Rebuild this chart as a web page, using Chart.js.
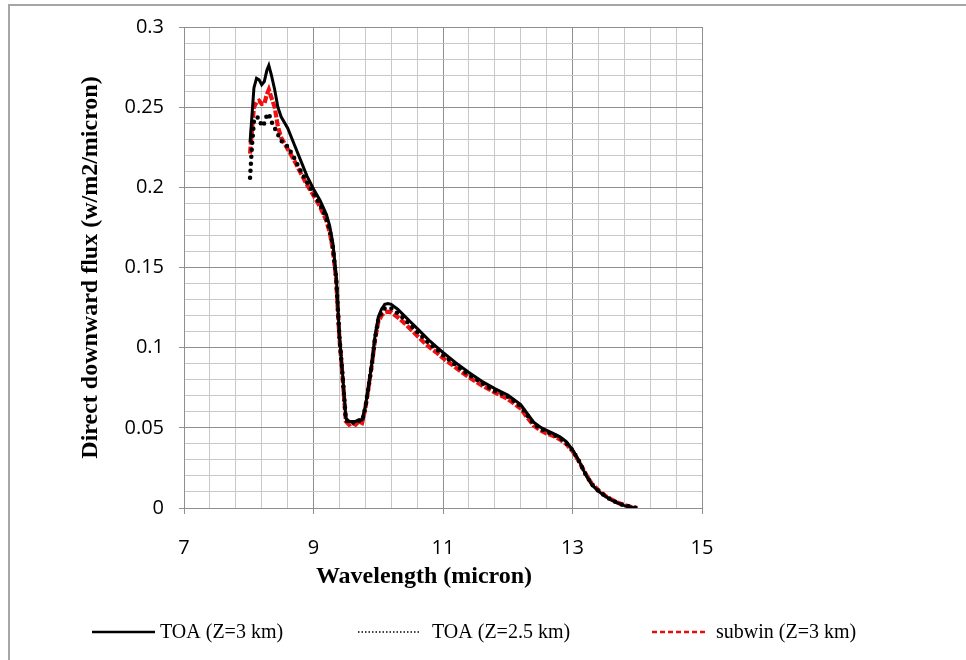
<!DOCTYPE html>
<html>
<head>
<meta charset="utf-8">
<title>Direct downward flux</title>
<script src="https://cdn.jsdelivr.net/npm/chart.js@4.4.1/dist/chart.umd.min.js"></script>
<style>
  html, body { margin: 0; padding: 0; background: #fff; overflow: hidden; }
  #wrap { position: relative; width: 966px; height: 660px; }
  #frame { position: absolute; left: 8px; top: 4px; width: 1000px; height: 700px; border: 2px solid #a6a6a6; box-sizing: border-box; }
  canvas { position: absolute; left: 0; top: 0; }
</style>
</head>
<body>
<div id="wrap">
  <div id="frame"></div>
  <canvas id="fluxChart" width="966" height="660"></canvas>
</div>
<script>
// Data (wavelength in micron, flux in w/m2/micron)
const wavelength = [
  8.02, 8.05, 8.08, 8.12, 8.16, 8.2, 8.24, 8.28, 8.31, 8.35, 8.4, 8.45,
  8.5, 8.6, 8.7, 8.8, 8.9, 9.0, 9.1, 9.2, 9.25, 9.3, 9.35, 9.4,
  9.45, 9.5, 9.55, 9.6, 9.65, 9.7, 9.75, 9.8, 9.85, 9.9, 9.95, 10.0,
  10.05, 10.1, 10.15, 10.2, 10.3, 10.4, 10.5, 10.6, 10.7, 10.8, 10.9, 11.0,
  11.2, 11.4, 11.6, 11.8, 12.0, 12.2, 12.3, 12.4, 12.5, 12.6, 12.7, 12.8,
  12.9, 13.0, 13.1, 13.2, 13.3, 13.4, 13.5, 13.6, 13.7, 13.8, 13.9, 14.0
];

const toa3km = [
  0.228, 0.245, 0.262, 0.268, 0.267, 0.264, 0.266, 0.273, 0.276, 0.270, 0.261, 0.250,
  0.244, 0.237, 0.227, 0.217, 0.207, 0.199, 0.192, 0.183, 0.176, 0.165, 0.145, 0.108,
  0.083, 0.056, 0.054, 0.054, 0.054, 0.055, 0.055, 0.063, 0.076, 0.090, 0.107, 0.119,
  0.124, 0.127, 0.1275, 0.127, 0.124, 0.120, 0.116, 0.112, 0.108, 0.104, 0.1005, 0.097,
  0.0905, 0.0845, 0.079, 0.0745, 0.0705, 0.0645, 0.059, 0.0535, 0.0505, 0.0485, 0.0465, 0.0445,
  0.0415, 0.0365, 0.0295, 0.021, 0.0145, 0.0105, 0.0075, 0.005, 0.003, 0.0015, 0.0006, 0
];

const toa25km = [
  0.206, 0.226, 0.241, 0.244, 0.243, 0.238, 0.240, 0.245, 0.246, 0.241, 0.237, 0.233,
  0.229, 0.2255, 0.2185, 0.2105, 0.203, 0.1965, 0.1895, 0.1805, 0.1735, 0.1625, 0.1435, 0.107,
  0.082, 0.055, 0.053, 0.0535, 0.053, 0.0545, 0.054, 0.0625, 0.0755, 0.0895, 0.106, 0.1175,
  0.122, 0.1245, 0.125, 0.1245, 0.1215, 0.118, 0.114, 0.110, 0.106, 0.102, 0.099, 0.0955,
  0.089, 0.083, 0.078, 0.073, 0.0695, 0.0635, 0.058, 0.0525, 0.0495, 0.0475, 0.0458, 0.0438,
  0.0408, 0.036, 0.0293, 0.0212, 0.0147, 0.0107, 0.0076, 0.0051, 0.0031, 0.0016, 0.0007, 0
];

const subwin3km = [
  0.221, 0.236, 0.250, 0.253, 0.254, 0.252, 0.252, 0.258, 0.261, 0.256, 0.250, 0.238,
  0.231, 0.224, 0.217, 0.209, 0.2015, 0.195, 0.188, 0.179, 0.172, 0.161, 0.142, 0.106,
  0.081, 0.054, 0.052, 0.053, 0.052, 0.054, 0.053, 0.062, 0.075, 0.089, 0.105, 0.116,
  0.120, 0.122, 0.1225, 0.122, 0.119, 0.1155, 0.1115, 0.1075, 0.1035, 0.100, 0.097, 0.0935,
  0.0875, 0.0815, 0.0765, 0.072, 0.068, 0.062, 0.0565, 0.0515, 0.0485, 0.0465, 0.045, 0.043,
  0.040, 0.0355, 0.029, 0.0215, 0.015, 0.011, 0.0078, 0.0053, 0.0033, 0.0018, 0.0008, 0
];

const seriesLabels = ["TOA (Z=3 km)", "TOA (Z=2.5 km)", "subwin (Z=3 km)"];
const xTitle = "Wavelength (micron)";
const yTitle = "Direct downward flux (w/m2/micron)";

// Axis ranges and tick steps
const xRange = [7, 15];
const yRange = [0, 0.3];
const xMinorStep = 0.4;
const xLabelStep = 2;
const yMinorStep = 0.01;
const yLabelStep = 0.05;

// Helpers
function points(values) {
  return wavelength.map((x, i) => ({ x, y: values[i] }));
}

function onStep(value, origin, step) {
  const k = (value - origin) / step;
  return Math.abs(k - Math.round(k)) < 1e-6;
}

const isMajorX = (v) => onStep(v, xRange[0], xLabelStep);
const isMajorY = (v) => onStep(v, 0, yLabelStep);

const tickFont = { family: "'Open Sans', sans-serif", size: 20 };
const titleFont = { family: "'Liberation Serif', serif", size: 24, weight: "bold" };

// Legend swatches, drawn below the axes
const legendStyles = [
  { x: 92, w: 63, textX: 160, color: "#000", width: 2.5, dash: [] },
  { x: 358, w: 62, textX: 432, color: "#000", width: 1.5, dash: [1.5, 2] },
  { x: 652, w: 54, textX: 716, color: "#e01010", width: 2.5, dash: [5, 3] },
];

const captionPlugin = {
  id: "captions",
  afterDraw(chart) {
    const ctx = chart.ctx;
    ctx.save();
    ctx.fillStyle = "#000";
    ctx.font = "bold 24px 'Liberation Serif'";
    ctx.textAlign = "center";
    ctx.textBaseline = "middle";
    ctx.fillText(xTitle, 424, 577);

    ctx.font = "20px 'Liberation Serif'";
    ctx.textAlign = "left";
    legendStyles.forEach((s, i) => {
      ctx.beginPath();
      ctx.strokeStyle = s.color;
      ctx.lineWidth = s.width;
      ctx.setLineDash(s.dash);
      ctx.moveTo(s.x, 632);
      ctx.lineTo(s.x + s.w, 632);
      ctx.stroke();
      ctx.fillText(seriesLabels[i], s.textX, 633);
    });
    ctx.restore();
  },
};

// Chart
const chartInstance = new Chart(document.getElementById("fluxChart"), {
  type: "line",
  data: {
    datasets: [
      {
        label: seriesLabels[0],
        data: points(toa3km),
        borderColor: "#000",
        borderWidth: 3,
      },
      {
        label: seriesLabels[1],
        data: points(toa25km),
        borderColor: "#000",
        borderWidth: 4.5,
        borderDash: [0, 7],
        borderCapStyle: "round",
      },
      {
        label: seriesLabels[2],
        data: points(subwin3km),
        borderColor: "#f01010",
        borderWidth: 4.2,
        borderDash: [7, 2],
      },
    ],
  },
  options: {
    responsive: false,
    animation: false,
    events: [],
    elements: { point: { radius: 0 }, line: { tension: 0 } },
    layout: { padding: { left: 76, top: 22, right: 264, bottom: 72 } },
    plugins: {
      legend: { display: false },
      tooltip: { enabled: false },
    },
    scales: {
      x: {
        type: "linear",
        min: xRange[0],
        max: xRange[1],
        afterFit: (scale) => { scale.height = 80; },
        grid: {
          color: (c) => (isMajorX(c.tick.value) ? "#8f8f8f" : "#c8c8c8"),
          tickColor: (c) => (isMajorX(c.tick.value) ? "#8f8f8f" : "rgba(0,0,0,0)"),
          tickLength: 6,
          lineWidth: 1,
        },
        border: { color: "#8f8f8f", width: 1 },
        ticks: {
          stepSize: xMinorStep,
          autoSkip: false,
          maxRotation: 0,
          padding: 22,
          color: "#000",
          font: tickFont,
          callback: (v) => (isMajorX(v) ? String(Math.round(v)) : ""),
        },
      },
      y: {
        min: yRange[0],
        max: yRange[1],
        afterFit: (scale) => { scale.width = 108; },
        grid: {
          color: (c) => (isMajorY(c.tick.value) ? "#8f8f8f" : "#c8c8c8"),
          tickColor: (c) => (isMajorY(c.tick.value) ? "#8f8f8f" : "rgba(0,0,0,0)"),
          tickLength: 5,
          lineWidth: 1,
        },
        border: { color: "#8f8f8f", width: 1 },
        ticks: {
          stepSize: yMinorStep,
          maxTicksLimit: 100,
          autoSkip: false,
          padding: 15,
          color: "#000",
          font: tickFont,
          callback: (v) => (isMajorY(v) ? String(+v.toFixed(2)) : ""),
        },
        title: {
          display: true,
          text: yTitle,
          color: "#000",
          font: titleFont,
          padding: 0,
        },
      },
    },
  },
  plugins: [captionPlugin],
});
</script>
</body>
</html>
